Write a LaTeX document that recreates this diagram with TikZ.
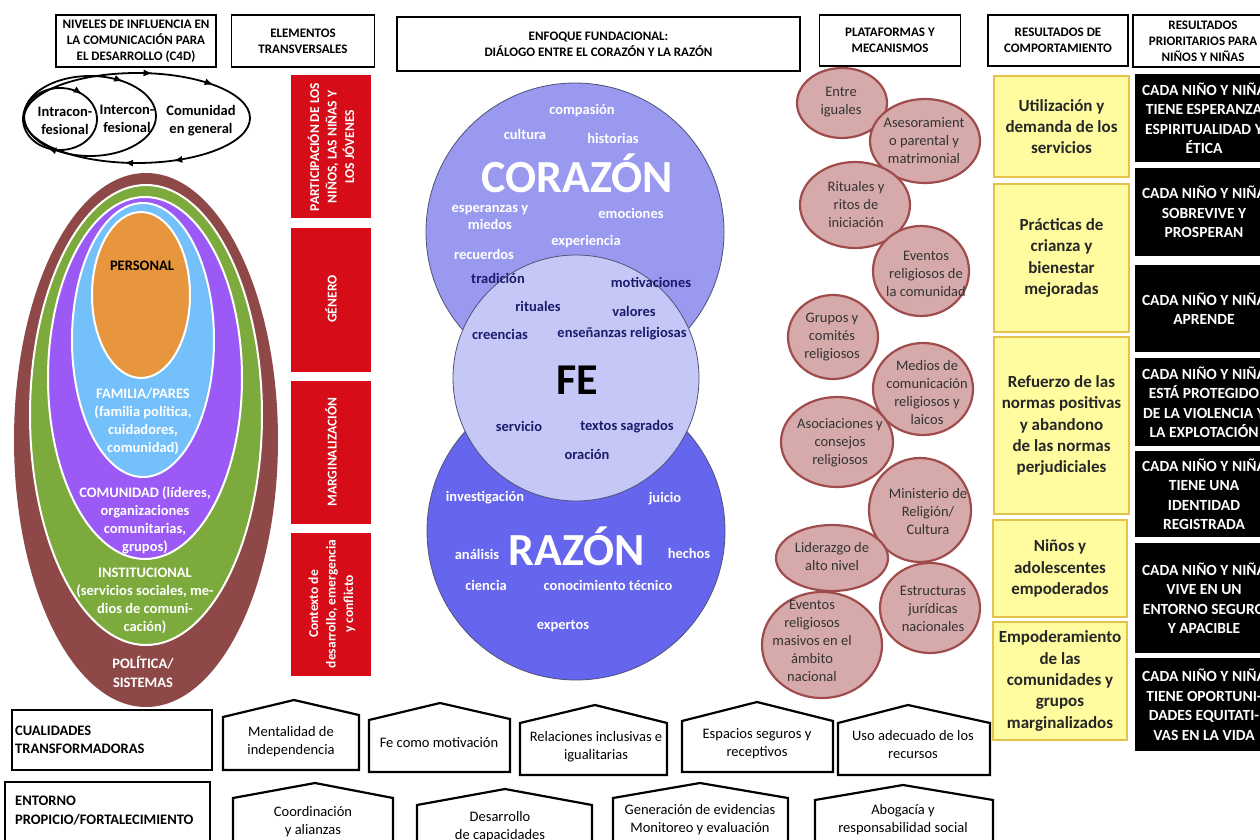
\documentclass[tikz,border=0pt]{standalone}
\usepackage{fontspec}
\setmainfont{Carlito}
\usetikzlibrary{decorations.markings,arrows.meta}
\definecolor{brownE}{RGB}{142,72,72}
\definecolor{greenE}{RGB}{124,170,60}
\definecolor{purpleE}{RGB}{155,90,245}
\definecolor{blueE}{RGB}{115,192,250}
\definecolor{orangeE}{RGB}{232,150,62}
\definecolor{corC}{RGB}{153,153,240}
\definecolor{razC}{RGB}{101,101,238}
\definecolor{feC}{RGB}{197,200,247}
\definecolor{circD}{RGB}{80,80,120}
\definecolor{navyT}{RGB}{27,27,107}
\definecolor{redB}{RGB}{214,12,24}
\definecolor{platF}{RGB}{214,170,170}
\definecolor{platD}{RGB}{160,76,76}
\definecolor{yelF}{RGB}{255,252,160}
\definecolor{yelD}{RGB}{230,193,75}
\begin{document}
\begin{tikzpicture}[x=1pt,y=-1pt,
  hdr/.style={draw,line width=1.8pt,align=center,inner sep=0pt,font=\fontsize{13}{16}\selectfont\bfseries},
  loop/.style={line width=1.8pt},
  tip/.style={},
  ttl/.style={align=center,inner sep=0pt,font=\fontsize{14.5}{18}\selectfont\bfseries},
  lvl/.style={align=center,inner sep=0pt,text=white,font=\fontsize{14.5}{18}\selectfont\bfseries},
  redbar/.style={fill=redB,inner sep=0pt,minimum width=80,minimum height=143},
  redtxt/.style={rotate=90,align=center,inner sep=0pt,text=white,font=\fontsize{13.5}{17.5}\selectfont\bfseries},
  circ/.style={draw=circD,line width=0.8pt},
  cw/.style={inner sep=0pt,align=center,text=white,font=\fontsize{14.5}{17}\selectfont\bfseries},
  cn/.style={inner sep=0pt,align=center,text=navyT,font=\fontsize{14.5}{17}\selectfont\bfseries},
  big/.style={inner sep=0pt,font=\fontsize{46}{50}\selectfont\bfseries},
  plat/.style={draw=platD,fill=platF,line width=2.2pt},
  ptxt/.style={inner sep=0pt,align=center,text=black!80,font=\fontsize{14.5}{18}\selectfont},
  ybox/.style={draw=yelD,fill=yelF,line width=2.2pt,align=center,inner sep=0pt,text=black!85,font=\fontsize{17}{21.3}\selectfont\bfseries},
  bbox/.style={fill=black,align=center,inner sep=0pt,text=white,minimum width=138,font=\fontsize{15.5}{19.5}\selectfont\bfseries},
  lbl/.style={draw,line width=2.2pt,inner sep=0pt},
  lbltxt/.style={align=left,inner sep=0pt,font=\fontsize{14.5}{18.5}\selectfont\bfseries},
  house/.style={draw,line width=2.2pt,line join=miter,fill=white},
  htxt/.style={align=center,inner sep=0pt,font=\fontsize{14.5}{18}\selectfont}
]
\useasboundingbox (0,0) rectangle (1260,840);
\fill[white] (0,0) rectangle (1260,840);

% ---------- headers
\node[hdr,minimum width=160,minimum height=52] (h1) at (136,41) {NIVELES DE INFLUENCIA EN\\LA COMUNICACIÓN PARA\\EL DESARROLLO (C4D)};
\node[hdr,minimum width=143,minimum height=52] (h2) at (303,41) {ELEMENTOS\\TRANSVERSALES};
\node[hdr,minimum width=403,minimum height=54] (h3) at (598.5,44) {ENFOQUE FUNDACIONAL:\\DIÁLOGO ENTRE EL CORAZÓN Y LA RAZÓN};
\node[hdr,minimum width=141,minimum height=51] (h4) at (890,40.5) {PLATAFORMAS Y\\MECANISMOS};
\node[hdr,minimum width=140,minimum height=51] (h5) at (1058,40.5) {RESULTADOS DE\\COMPORTAMIENTO};
\node[hdr,minimum width=140,minimum height=52] (h6) at (1203,41) {RESULTADOS\\PRIORITARIOS PARA\\NIÑOS Y NIÑAS};

% ---------- loops
\draw[loop,postaction={decorate,decoration={markings,
   mark=at position 0.18 with {\arrow{Latex[length=9pt,width=7pt]}},
   mark=at position 0.275 with {\arrow{Latex[length=9pt,width=7pt]}},
   mark=at position 0.78 with {\arrow{Latex[length=9pt,width=7pt]}},
   mark=at position 0.9 with {\arrow{Latex[length=9pt,width=7pt]}}}}]
   (137,118) ellipse [x radius=113,y radius=45];
\draw[loop,postaction={decorate,decoration={markings,
   mark=at position 0.85 with {\arrow{Latex[length=9pt,width=7pt]}}}}]
   (90,116) ellipse [x radius=66,y radius=40];
\draw[loop,postaction={decorate,decoration={markings,
   mark=at position 0.31 with {\arrow{Latex[length=9pt,width=7pt]}},
   mark=at position 0.86 with {\arrow{Latex[length=9pt,width=7pt]}}}}]
   (60,119) ellipse [x radius=37,y radius=31];
\node[ttl] (l1) at (65,121) {Intracon-\\fesional};
\node[ttl] (l2) at (127,119) {Intercon-\\fesional};
\node[ttl] (l3) at (201,121) {Comunidad\\en general};

% ---------- levels
\fill[brownE] (146,440) ellipse [x radius=132,y radius=267];
\path[fill=greenE,draw=white,line width=2pt] (146,415) ellipse [x radius=116,y radius=230];
\path[fill=purpleE,draw=white,line width=2pt] (145,378) ellipse [x radius=97,y radius=181];
\path[fill=blueE,draw=white,line width=2pt] (143,340) ellipse [x radius=71,y radius=137];
\path[fill=orangeE,draw=white,line width=2pt] (141,295) ellipse [x radius=49,y radius=83];
\node[lvl,text=black] (v1) at (142,266) {PERSONAL};
\node[lvl] (v2) at (143,422) {FAMILIA/PARES\\(familia política,\\cuidadores,\\comunidad)};
\node[lvl] (v3) at (145,520) {COMUNIDAD (líderes,\\organizaciones\\comunitarias,\\grupos)};
\node[lvl] (v4) at (145,601) {INSTITUCIONAL\\(servicios sociales, me-\\dios de comuni-\\cación)};
\node[lvl,font=\fontsize{14.5}{19}\selectfont\bfseries] (v5) at (143,672) {POLÍTICA/\\SISTEMAS};

% ---------- red bars
\node[redbar] (r1) at (331,146.5) {};
\node[redbar,minimum height=144] (r2) at (331,300) {};
\node[redbar] (r3) at (331,452.5) {};
\node[redbar] (r4) at (331,604.5) {};
\node[redtxt] (rt1) at (331,147) {PARTICIPACIÓN DE LOS\\NIÑOS, LAS NIÑAS Y\\LOS JÓVENES};
\node[redtxt] (rt2) at (331,299) {GÉNERO};
\node[redtxt] (rt3) at (331,452) {MARGINALIZACIÓN};
\node[redtxt] (rt4) at (332,604) {Contexto de\\desarrollo, emergencia\\y conflicto};

% ---------- circles
\path[circ,fill=corC] (575,232) circle [radius=149];
\path[circ,fill=razC] (576,531) circle [radius=149];
\path[circ,fill=feC] (576,378) circle [radius=123];
\node[cw] (c1) at (582,111) {compasión};
\node[cw] (c2) at (525,134) {cultura};
\node[cw] (c3) at (613,138) {historias};
\node[big,text=white] (cor) at (577,173) {CORAZÓN};
\node[cw] (c4) at (490,217) {esperanzas y\\miedos};
\node[cw] (c5) at (631,213) {emociones};
\node[cw] (c6) at (586,242) {experiencia};
\node[cw] (c7) at (484,254) {recuerdos};
\node[cn] (f1) at (498,278) {tradición};
\node[cn] (f2) at (651,282) {motivaciones};
\node[cn] (f3) at (538,306) {rituales};
\node[cn] (f4) at (634,311) {valores};
\node[cn] (f5) at (500,334) {creencias};
\node[cn] (f6) at (622,334) {enseñanzas religiosas};
\node[big,text=black,font=\fontsize{44}{48}\selectfont\bfseries] (fe) at (577,380) {FE};
\node[cn] (f7) at (519,426) {servicio};
\node[cn] (f8) at (627,427) {textos sagrados};
\node[cn] (f9) at (587,454) {oración};
\node[cw] (z1) at (485,498) {investigación};
\node[cw] (z2) at (665,499) {juicio};
\node[cw] (z3) at (477,554) {análisis};
\node[big,text=white] (raz) at (577,546) {RAZÓN};
\node[cw] (z4) at (689,553) {hechos};
\node[cw] (z5) at (486,585) {ciencia};
\node[cw] (z6) at (608,585) {conocimiento técnico};
\node[cw] (z7) at (563,626) {expertos};

% ---------- platforms
\path[plat] (842,103) ellipse [x radius=45,y radius=35];
\node[ptxt] (p1) at (841,102.5) {Entre\\iguales};
\path[plat] (925,141) ellipse [x radius=55,y radius=42];
\node[ptxt] (p2) at (924,140.5) {Asesoramient\\o parental y\\matrimonial};
\path[plat] (855,205) ellipse [x radius=55,y radius=43];
\node[ptxt] (p3) at (856,205) {Rituales y\\ritos de\\iniciación};
\path[plat] (921,271) ellipse [x radius=48,y radius=45];
\node[ptxt] (p4) at (926,274) {Eventos\\religiosos de\\la comunidad};
\path[plat] (833,337) ellipse [x radius=45,y radius=42];
\node[ptxt] (p5) at (832,337) {Grupos y\\comités\\religiosos};
\path[plat] (923,389) ellipse [x radius=50,y radius=46];
\node[ptxt] (p6) at (927,393) {Medios de\\comunicación\\religiosos y\\laicos};
\path[plat] (837,442) ellipse [x radius=56,y radius=45];
\node[ptxt] (p7) at (840,443) {Asociaciones y\\consejos\\religiosos};
\path[plat] (920,510) ellipse [x radius=51,y radius=52];
\node[ptxt] (p8) at (928,512) {Ministerio de\\Religión/\\Cultura};
\path[plat] (832,558) ellipse [x radius=56,y radius=33];
\node[ptxt] (p9) at (832,557) {Liderazgo de\\alto nivel};
\path[plat] (930,608) ellipse [x radius=50,y radius=45];
\node[ptxt] (p10) at (933,609) {Estructuras\\jurídicas\\nacionales};
\path[plat] (822,645) ellipse [x radius=60,y radius=53];
\node[ptxt] (p11) at (812,641) {Eventos\\religiosos\\masivos en el\\ámbito\\nacional};

% ---------- behaviour results
\node[ybox,minimum width=135,minimum height=101] (y1) at (1061.5,126.5) {Utilización y\\demanda de los\\servicios};
\node[ybox,minimum width=135,minimum height=148] (y2) at (1061.5,258) {Prácticas de\\crianza y\\bienestar\\mejoradas};
\node[ybox,minimum width=135,minimum height=177] (y3) at (1061.5,425.5) {Refuerzo de las\\normas positivas\\y abandono\\de las normas\\perjudiciales};
\node[ybox,minimum width=134,minimum height=97] (y4) at (1060,568.5) {Niños y\\adolescentes\\empoderados};
\node[ybox,minimum width=134,minimum height=118] (y5) at (1060,681) {Empoderamiento\\de las\\comunidades y\\grupos\\marginalizados};

% ---------- priority results
\node[bbox,minimum height=88] (b1) at (1204,118) {CADA NIÑO Y NIÑA\\TIENE ESPERANZA\\ESPIRITUALIDAD Y\\ÉTICA};
\node[bbox,minimum height=88] (b2) at (1204,212) {CADA NIÑO Y NIÑA\\SOBREVIVE Y\\PROSPERAN};
\node[bbox,minimum height=87] (b3) at (1204,308.5) {CADA NIÑO Y NIÑA\\APRENDE};
\node[bbox,minimum height=88] (b4) at (1204,402) {CADA NIÑO Y NIÑA\\ESTÁ PROTEGIDO\\DE LA VIOLENCIA Y\\LA EXPLOTACIÓN};
\node[bbox,minimum height=86] (b5) at (1204,494) {CADA NIÑO Y NIÑA\\TIENE UNA\\IDENTIDAD\\REGISTRADA};
\node[bbox,minimum height=110] (b6) at (1204,598) {CADA NIÑO Y NIÑA\\VIVE EN UN\\ENTORNO SEGURO\\Y APACIBLE};
\node[bbox,minimum height=93] (b7) at (1204,704.5) {CADA NIÑO Y NIÑA\\TIENE OPORTUNI-\\DADES EQUITATI-\\VAS EN LA VIDA};

% ---------- bottom rows
\node[lbl,minimum width=200,minimum height=60] (q1) at (112,740) {};
\node[lbltxt,anchor=west] (q1t) at (15,740) {CUALIDADES\\TRANSFORMADORAS};
\node[lbl,minimum width=205,minimum height=70] (q2) at (107.5,817) {};
\node[lbltxt,anchor=west] (q2t) at (15,810.5) {ENTORNO\\PROPICIO/FORTALECIMIENTO};

\draw[house] (223,770) -- (223,717) -- (294,700) -- (359,715) -- (359,770) -- cycle;
\node[htxt] (k1) at (291,742) {Mentalidad de\\independencia};
\draw[house] (369,772) -- (369,720) -- (440,703) -- (510,719) -- (510,772) -- cycle;
\node[htxt] (k2) at (439,743) {Fe como motivación};
\draw[house] (520,775) -- (520,723) -- (595,705) -- (667,723) -- (667,775) -- cycle;
\node[htxt] (k3) at (596,747) {Relaciones inclusivas e\\igualitarias};
\draw[house] (682,772) -- (682,721) -- (757,702) -- (833,721) -- (833,772) -- cycle;
\node[htxt] (k4) at (757,744) {Espacios seguros y\\receptivos};
\draw[house] (838,775) -- (838,723) -- (908,705) -- (990,723) -- (990,775) -- cycle;
\node[htxt] (k5) at (913,745) {Uso adecuado de los\\recursos};

\draw[house] (233,850) -- (233,798) -- (315,783) -- (393,798) -- (393,850);
\node[htxt] (k6) at (313,822) {Coordinación\\y alianzas};
\draw[house] (417,850) -- (417,805) -- (505,789) -- (592,805) -- (592,850);
\node[htxt] (k7) at (500,827) {Desarrollo\\de capacidades};
\draw[house] (613,850) -- (613,798) -- (700,783) -- (788,798) -- (788,850);
\node[htxt] (k8) at (700,820) {Generación de evidencias\\Monitoreo y evaluación};
\draw[house] (815,850) -- (815,800) -- (903,785) -- (993,800) -- (993,850);
\node[htxt] (k9) at (903,820) {Abogacía y\\responsabilidad social};
\end{tikzpicture}
\end{document}
